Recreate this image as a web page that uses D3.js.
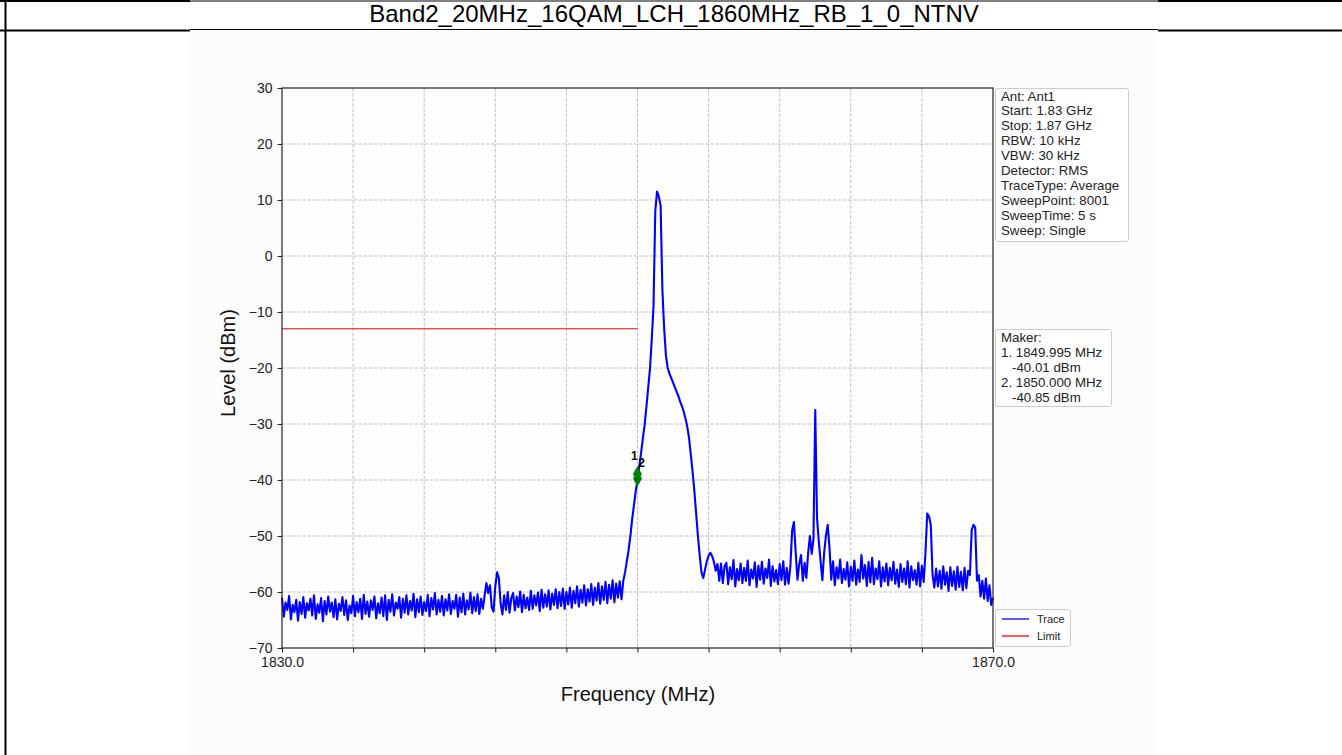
<!DOCTYPE html>
<html>
<head>
<meta charset="utf-8">
<script src="https://cdn.jsdelivr.net/npm/d3@7"></script>
<style>
  body { margin: 0; background: #fff; }
  svg { display: block; font-family: "Liberation Sans", Arial, sans-serif; }
</style>
</head>
<body>
<svg width="1342" height="755"></svg>
<script>
(function (d3) {
  'use strict';

  const titleText = 'Band2_20MHz_16QAM_LCH_1860MHz_RB_1_0_NTNV';

  // sweep: 1830 -> 1870 MHz, one level every 0.1 MHz
  const sweepStartMHz = 1830;
  const sweepStepMHz = 0.1;
  const traceLevels = [
    -61.0,-64.4,-61.9,-63.2,-60.7,-64.9,-62.3,-63.6,-61.4,-65.1, // 1830
    -61.8,-63.9,-60.9,-64.6,-62.0,-63.3,-61.2,-64.2,-60.6,-64.8, // 1831
    -62.2,-63.7,-61.1,-65.2,-61.6,-64.0,-60.8,-63.5,-61.9,-64.5, // 1832
    -61.3,-64.9,-62.1,-63.4,-60.9,-64.1,-61.5,-65.0,-62.4,-63.8, // 1833
    -60.7,-64.3,-61.8,-63.6,-61.2,-64.8,-60.5,-63.9,-61.7,-64.4, // 1834
    -61.5,-63.2,-60.8,-64.7,-62.0,-63.8,-61.0,-64.3,-60.6,-65.0, // 1835
    -61.4,-63.5,-60.4,-64.2,-61.9,-63.0,-60.9,-64.6,-61.2,-63.7, // 1836
    -60.6,-64.0,-61.6,-63.3,-60.3,-64.5,-61.3,-63.6,-60.8,-64.1, // 1837
    -61.8,-63.4,-60.5,-64.3,-61.1,-63.1,-60.2,-64.0,-61.4,-63.5, // 1838
    -60.7,-64.2,-61.3,-63.3,-60.4,-63.9,-61.6,-63.0,-60.5,-64.4, // 1839
    -61.0,-63.6,-60.3,-64.0,-61.5,-63.1,-60.1,-63.8,-60.9,-63.4, // 1840
    -60.4,-63.9,-61.2,-63.0,-60.6,-58.4,-60.2,-58.8,-62.8,-63.5, // 1841
    -59.0,-56.5,-57.5,-62.0,-64.0,-60.6,-63.2,-60.0,-63.7,-61.1, // 1842
    -60.2,-63.3,-60.8,-62.7,-59.9,-63.6,-60.5,-62.9,-61.0,-63.2, // 1843
    -59.8,-63.0,-60.6,-62.4,-60.1,-63.4,-59.6,-62.8,-60.4,-62.6, // 1844
    -59.7,-63.1,-60.3,-62.3,-59.5,-62.9,-60.0,-62.5,-59.4,-63.0, // 1845
    -60.0,-62.2,-59.2,-62.8,-59.8,-62.0,-59.0,-62.6,-59.6,-61.9, // 1846
    -58.8,-62.4,-59.5,-61.7,-58.6,-62.3,-59.2,-61.5,-58.4,-62.1, // 1847
    -59.0,-61.4,-58.2,-62.0,-58.7,-61.2,-57.9,-61.8,-58.5,-61.0, // 1848
    -58.1,-61.3,-58.0,-56.5,-54.5,-52.5,-50.0,-47.0,-44.5,-42.0, // 1849
    -40.0,-37.6,-35.2,-32.6,-30.2,-27.0,-23.6,-20.2,-15.0,-9.0,  // 1850
    8.0,11.5,10.6,9.0,-6.0,-13.0,-17.8,-20.0,-21.0,-21.8,         // 1851
    -22.6,-23.4,-24.2,-25.0,-26.0,-26.8,-27.8,-29.0,-30.5,-32.5, // 1852
    -35.5,-38.5,-42.0,-46.0,-50.0,-53.5,-56.5,-57.5,-56.0,-54.5, // 1853
    -53.5,-53.0,-53.6,-54.6,-56.2,-55.0,-58.0,-54.9,-58.4,-55.4, // 1854
    -54.8,-58.6,-55.6,-57.7,-54.3,-59.0,-55.9,-57.9,-54.9,-58.4, // 1855
    -55.7,-58.0,-54.4,-58.8,-56.0,-57.6,-54.7,-59.1,-55.3,-57.8, // 1856
    -54.6,-58.5,-55.8,-57.5,-54.2,-58.9,-55.4,-58.1,-56.1,-58.6, // 1857
    -55.0,-57.9,-54.5,-58.7,-55.7,-58.5,-55.4,-49.0,-47.5,-53.0, // 1858
    -57.8,-55.0,-53.4,-58.0,-54.8,-57.5,-53.0,-50.0,-53.2,-50.5, // 1859
    -27.5,-46.8,-51.0,-54.5,-57.9,-53.0,-50.0,-48.0,-52.0,-57.8, // 1860
    -54.5,-58.8,-55.6,-57.6,-54.2,-58.4,-55.9,-57.8,-54.7,-59.0, // 1861
    -55.5,-58.0,-54.4,-58.7,-56.0,-58.2,-53.4,-57.6,-55.2,-58.9, // 1862
    -54.6,-58.3,-53.9,-58.6,-55.8,-57.7,-54.5,-59.0,-55.6,-58.1, // 1863
    -54.9,-58.8,-55.7,-57.9,-54.6,-58.5,-56.0,-59.1,-55.0,-58.2, // 1864
    -55.8,-58.6,-54.5,-59.2,-55.4,-57.9,-56.1,-58.7,-54.8,-59.0, // 1865
    -55.3,-58.2,-53.0,-46.0,-46.5,-48.0,-57.0,-59.2,-55.8,-59.0, // 1866
    -56.2,-59.4,-55.4,-58.7,-56.5,-59.8,-55.6,-58.9,-56.3,-59.6, // 1867
    -55.5,-59.1,-56.4,-59.7,-55.7,-59.3,-56.2,-57.0,-49.0,-48.0, // 1868
    -48.5,-58.0,-57.0,-60.8,-58.0,-61.2,-57.6,-61.6,-58.8,-62.3, // 1869
    -61.0                                                        // 1870
  ];

  const limitFreqs = [1830, 1850];
  const limitLevels = [-13, -13];

  const markerNames = ['1', '2'];
  const markerFreqs = [1849.995, 1850.000];
  const markerLevels = [-40.01, -40.85];

  const xTicks = [1830, 1834, 1838, 1842, 1846, 1850, 1854, 1858, 1862, 1866, 1870];
  const xTickLabels = ['1830.0', '', '', '', '', '', '', '', '', '', '1870.0'];
  const yTicks = [30, 20, 10, 0, -10, -20, -30, -40, -50, -60, -70];

  const infoLines = ['Ant: Ant1', 'Start: 1.83 GHz', 'Stop: 1.87 GHz', 'RBW: 10 kHz',
    'VBW: 30 kHz', 'Detector: RMS', 'TraceType: Average', 'SweepPoint: 8001',
    'SweepTime: 5 s', 'Sweep: Single'];
  const makerLines = ['Maker:', '1. 1849.995 MHz', '-40.01 dBm', '2. 1850.000 MHz', '-40.85 dBm'];
  const legendNames = ['Trace', 'Limit'];
  const legendColors = ['#0000ff', '#ff0000'];

  const svg = d3.select('svg');

  // page frame (table cell around the picture)
  svg.append('rect').attr('x', 190).attr('y', 31).attr('width', 968).attr('height', 724)
    .attr('fill', '#fcfcfc');
  const frame = svg.append('g').attr('stroke', '#000');
  [[0, 190, 2], [190, 1158, 1], [1158, 1342, 2]].forEach(s => {
    frame.append('line').attr('x1', s[0]).attr('x2', s[1]).attr('y1', 1).attr('y2', 1).attr('stroke-width', s[2]);
    frame.append('line').attr('x1', s[0]).attr('x2', s[1]).attr('y1', s[2] === 2 ? 30.5 : 29.5).attr('y2', s[2] === 2 ? 30.5 : 29.5).attr('stroke-width', s[2]);
  });
  frame.append('line').attr('x1', 5.5).attr('x2', 5.5).attr('y1', 0).attr('y2', 755).attr('stroke-width', 2);

  svg.append('text').attr('x', 674).attr('y', 22).attr('text-anchor', 'middle')
    .attr('font-size', 24).attr('fill', '#000').text(titleText);

  const x = d3.scaleLinear().domain([1830, 1870]).range([282, 993]);
  const y = d3.scaleLinear().domain([-70, 30]).range([648, 88]);

  svg.append('rect').attr('x', 282).attr('y', 88).attr('width', 711).attr('height', 560).attr('fill', '#fefefe');

  // grid
  const grid = svg.append('g').attr('stroke', '#b0b0b0').attr('stroke-width', 0.8)
    .attr('stroke-dasharray', '3.5,1.6');
  grid.selectAll('.gx').data(xTicks.slice(1, -1)).enter().append('line')
    .attr('x1', d => x(d)).attr('x2', d => x(d)).attr('y1', 88).attr('y2', 648);
  grid.selectAll('.gy').data(yTicks.slice(1, -1)).enter().append('line')
    .attr('y1', d => y(d)).attr('y2', d => y(d)).attr('x1', 282).attr('x2', 993);

  // trace
  const trace = traceLevels.map((v, i) => ({ f: sweepStartMHz + i * sweepStepMHz, v: v }));
  const line = d3.line().x(d => x(d.f)).y(d => y(d.v));
  const plot = svg.append('g');
  plot.append('path').datum(trace).attr('d', line).attr('fill', 'none')
    .attr('stroke', '#0000ff').attr('stroke-width', 2.1).attr('stroke-linejoin', 'round');

  const limit = limitFreqs.map((f, i) => ({ f: f, v: limitLevels[i] }));
  plot.append('path').datum(limit).attr('d', line).attr('fill', 'none')
    .attr('stroke', '#ff0000').attr('stroke-width', 1.1);

  // markers
  const markers = markerFreqs.map((f, i) => ({ f: f, v: markerLevels[i], name: markerNames[i] }));
  plot.selectAll('.mk').data(markers).enter().append('path')
    .attr('d', d3.symbol().type(d3.symbolDiamond).size(70))
    .attr('transform', d => `translate(${x(d.f)},${y(d.v) - 6})`)
    .attr('fill', '#008000');
  plot.selectAll('.ml').data(markers).enter().append('text')
    .attr('x', (d, i) => x(d.f) - 3 + i * 7)
    .attr('y', (d, i) => y(d.v) - 20 + i * 2)
    .attr('text-anchor', 'middle').attr('font-size', 12).attr('font-weight', 'bold')
    .attr('fill', '#000').text(d => d.name);

  // axes
  const xAxis = svg.append('g').attr('transform', 'translate(0,648)')
    .call(d3.axisBottom(x).tickValues(xTicks).tickSize(4.5).tickPadding(5)
      .tickFormat((d, i) => xTickLabels[i]));
  const yAxis = svg.append('g').attr('transform', 'translate(282,0)')
    .call(d3.axisLeft(y).tickValues(yTicks).tickSize(4.5).tickPadding(5)
      .tickFormat(d => d < 0 ? '\u2212' + Math.abs(d) : String(d)));
  [xAxis, yAxis].forEach(a => {
    a.select('.domain').remove();
    a.selectAll('line').attr('stroke', '#222');
    a.selectAll('text').attr('font-size', 14).attr('fill', '#222')
      .attr('font-family', '"Liberation Sans", Arial, sans-serif');
  });
  svg.append('rect').attr('x', 282).attr('y', 88).attr('width', 711).attr('height', 560)
    .attr('fill', 'none').attr('stroke', '#222').attr('stroke-width', 1.2);

  svg.append('text').attr('x', 638).attr('y', 701).attr('text-anchor', 'middle')
    .attr('font-size', 20).attr('fill', '#111').text('Frequency (MHz)');
  svg.append('text').attr('transform', 'translate(235,363) rotate(-90)').attr('text-anchor', 'middle')
    .attr('font-size', 20).attr('fill', '#111').text('Level (dBm)');

  // info boxes
  const box = (bx, by, bw, bh) => svg.append('rect').attr('x', bx).attr('y', by)
    .attr('width', bw).attr('height', bh).attr('rx', 2.5)
    .attr('fill', '#fff').attr('fill-opacity', 0.85).attr('stroke', '#cccccc');

  box(995.5, 88.5, 133, 153);
  svg.append('g').selectAll('text').data(infoLines).enter().append('text')
    .attr('x', 1001).attr('y', (d, i) => 100.5 + i * 14.9)
    .attr('font-size', 13.3).attr('fill', '#222').text(d => d);

  box(995.5, 329.5, 116, 77);
  svg.append('g').selectAll('text').data(makerLines).enter().append('text')
    .attr('x', d => d.startsWith('-') ? 1012 : 1001).attr('y', (d, i) => 342 + i * 15)
    .attr('font-size', 13.3).attr('fill', '#222').text(d => d);

  box(995.5, 609.5, 75, 37);
  const lg = svg.append('g').selectAll('g').data(legendNames).enter().append('g')
    .attr('transform', (d, i) => `translate(1002,${619 + i * 17})`);
  lg.append('line').attr('x1', 0).attr('x2', 27).attr('stroke', (d, i) => legendColors[i]).attr('stroke-width', 1.3);
  lg.append('text').attr('x', 35).attr('y', 4).attr('font-size', 11).attr('fill', '#222').text(d => d);

}(d3));
</script>
</body>
</html>
